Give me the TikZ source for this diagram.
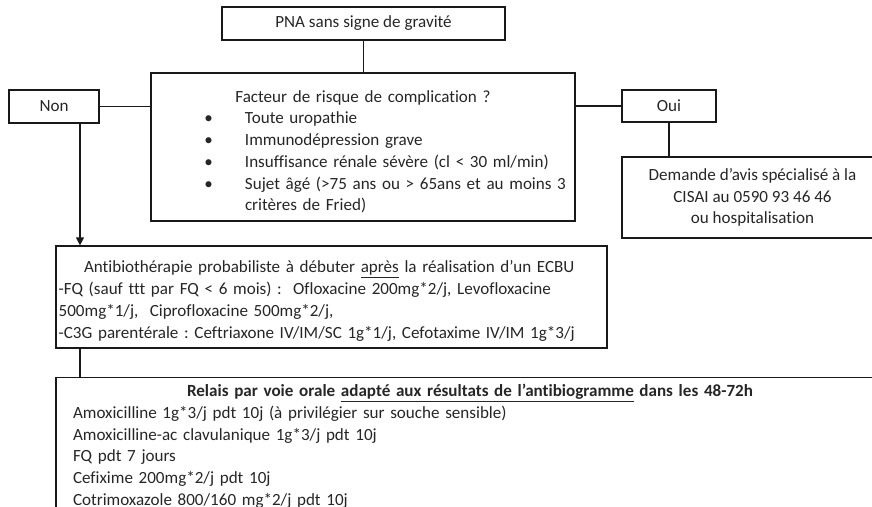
\documentclass[tikz,border=0pt]{standalone}
\usepackage{fontspec}
\setmainfont{Carlito}[Ligatures=NoCommon]
\usepackage{tikz}
\usetikzlibrary{arrows.meta}
\frenchspacing
\tikzstyle{boite}=[draw=black!90, rectangle, line width=0.9pt, inner sep=0pt, text=black!85, font=\fontsize{12.8}{16.3}\selectfont]
\tikzstyle{lien}=[draw=black!90, line width=0.9pt]
\newcommand{\puce}[1]{\par\noindent\hangindent=70.5pt\hangafter=1\makebox[70.5pt][l]{\hspace{40pt}\textbullet}#1}

\begin{document}
\begin{tikzpicture}[x=0.75pt, y=-0.75pt]
        \clip (0,0) rectangle (872,507);
        \node[boite, minimum width=212.25pt, minimum height=24.75pt] (pna) at (363.5,23.5) {PNA sans signe de gravité};
        \node[boite, minimum width=318pt, minimum height=111pt, text width=318pt] (risque) at (363,147) {%
            {\centering\rule{0pt}{16pt}Facteur de risque de complication ?\par}\raggedright
            \puce{Toute uropathie}\puce{Immunodépression grave}\puce{Insuffisance rénale sévère (cl < 30 ml/min)}%
            \puce{Sujet âgé (>75 ans ou > 65ans et au moins 3\newline critères de Fried)}\par};
        \node[boite, minimum width=67.5pt, minimum height=24.75pt] (non) at (54,106.5) {Non};
        \node[boite, minimum width=70.5pt, minimum height=24pt] (oui) at (669,106) {Oui};
        \node[boite, minimum width=195.75pt, minimum height=60.75pt, align=center] (avis) at (752.5,197.5)
            {Demande d’avis spécialisé à la\\CISAI au 0590 93 46 46\\ou hospitalisation};
        \node[boite, minimum width=413.25pt, minimum height=76.5pt, inner xsep=2pt, text width=409.25pt] (antibio) at (331.5,297) {%
            \raggedright\hspace*{19pt}\rule{0pt}{15pt}Antibiothérapie probabiliste à débuter \underline{après} la réalisation d’un ECBU\\
            -FQ (sauf ttt par FQ < 6 mois) :\ \ Ofloxacine 200mg*2/j, Levofloxacine\\
            500mg*1/j,\ \ Ciprofloxacine 500mg*2/j,\\
            -C3G parentérale : Ceftriaxone IV/IM/SC 1g*1/j, Cefotaxime IV/IM 1g*3/j};
        \node[boite, anchor=north, inner xsep=12.75pt, inner ysep=5pt, text width=595.5pt] (relais) at (470,377) {%
            {\centering\bfseries Relais par voie orale \underline{adapté aux résultats de l’antibiogramme} dans les 48-72h\par}\raggedright
            Amoxicilline 1g*3/j pdt 10j (à privilégier sur souche sensible)\\
            Amoxicilline-ac clavulanique 1g*3/j pdt 10j\\
            FQ pdt 7 jours\\
            Cefixime 200mg*2/j pdt 10j\\
            Cotrimoxazole 800/160 mg*2/j pdt 10j\par\vspace{6pt}};
        % liens
        \draw[lien] (pna.south) -- (pna.south |- risque.north);
        \draw[lien] (non.east) -- (non.east -| risque.west);
        \draw[lien] (oui.west -| risque.east) -- (oui.west);
        \draw[lien] (oui.south) -- (oui.south |- avis.north);
        \coordinate (depart) at ([xshift=19.5pt]non.south);
        \draw[lien, -{Triangle[length=6pt, width=6pt]}] (depart) -- (depart |- antibio.north);
        \draw[lien] (depart |- antibio.south) -- (depart |- relais.north);
    \end{tikzpicture}
\end{document}
